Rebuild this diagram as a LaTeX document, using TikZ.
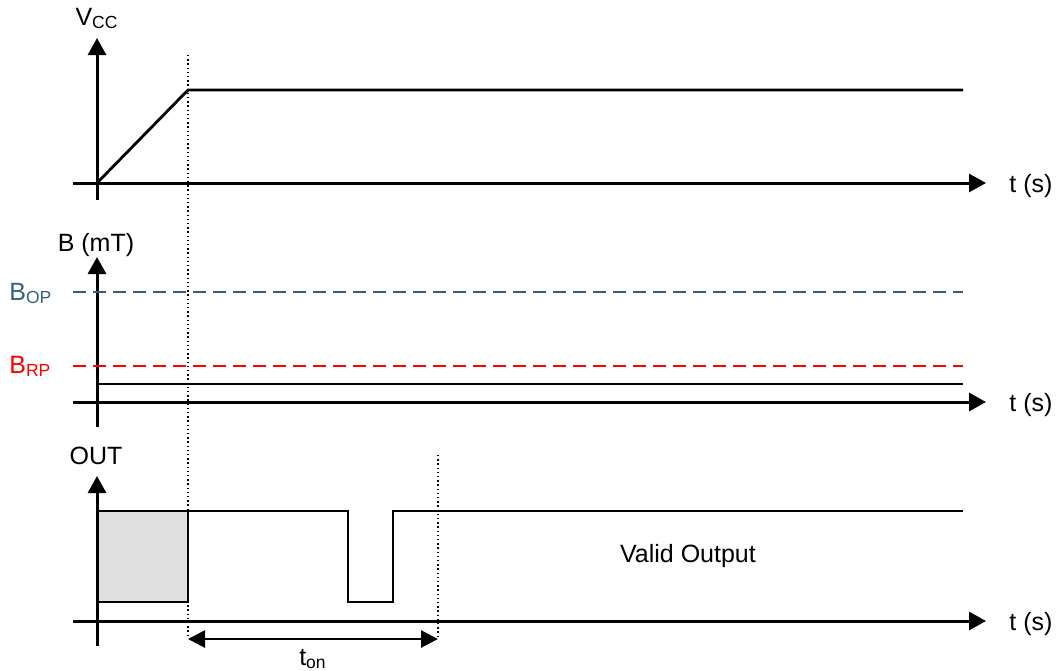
\documentclass[tikz,border=0pt]{standalone}
\usepackage{fontspec}
\setmainfont{Liberation Sans}
\usepackage{xcolor}
\usetikzlibrary{arrows.meta,positioning}
\definecolor{bopblue}{RGB}{52,96,128}
\definecolor{boxgray}{RGB}{224,224,224}

\begin{document}
\begin{tikzpicture}[x=0.5pt,y=-0.5pt,
    font=\fontsize{12.5}{15}\selectfont,
    axis/.style={line width=1.5pt,-{Triangle[length=8.5pt,width=9pt]}},
    sig/.style={line width=1.4pt},
    lvl/.style={line width=1.1pt,dash pattern=on 6.5pt off 3.5pt},
    guide/.style={line width=0.7pt,dash pattern=on 0.7pt off 1.4pt},
    span/.style={line width=1.4pt,{Triangle[length=8.5pt,width=8.5pt]}-{Triangle[length=8.5pt,width=8.5pt]}},
    lab/.style={inner sep=0pt}]
    \def\ox{97}    % time origin
    \def\tp{188}   % end of power-up ramp
    \def\tv{438}   % end of t_on
    \def\xe{963}   % end of the traces

    \useasboundingbox (0,0) rectangle (1058,670);

    % Output box during power-up
    \fill[boxgray] (\ox,511) rectangle (\tp,602);

    % Axes (one set per panel)
    \foreach \n/\yb/\yt/\yx in {vcc/200/38/183, b/427/257/402, out/646/476/621} {
        \draw[axis] (\ox,\yb) -- (\ox,\yt);
        \draw[axis] (73,\yx) -- (986,\yx);
        \node[lab, anchor=base west] (t\n) at (1009,\yx+9) {t (s)};
    }

    % Axis labels
    \node[lab, anchor=base] (vcc) at (\ox,25) {V\textsubscript{CC}};
    \node[lab, anchor=base] (bmt) at (96,251) {B (mT)};
    \node[lab, anchor=base] (out) at (96,464) {OUT};

    % Supply ramp
    \draw[sig] (\ox,183) -- (\tp,90) -- (\xe,90);

    % Thresholds and field
    \draw[lvl, bopblue] (73,292) -- (\xe,292);
    \draw[lvl, red] (73,366) -- (\xe,366);
    \node[lab, anchor=base west, text=bopblue] (bop) at (9,300) {B\textsubscript{OP}};
    \node[lab, anchor=base west, text=red] (brp) at (9,373) {B\textsubscript{RP}};
    \draw[sig] (\ox,384) -- (\xe,384);

    % Output trace
    \draw[sig] (\ox,511) -- (\tp,511);
    \draw[sig] (\ox,602) -- (\tp,602) -- (\tp,511) -- (348,511) -- (348,602)
        -- (393,602) -- (393,511) -- (\xe,511);
    \node[lab] (valid) at (688,556) {Valid Output};

    % Timing guides
    \coordinate (g1top) at (\tp,55);
    \coordinate (g1bot) at (\tp,636);
    \coordinate (g2top) at (\tv,455);
    \coordinate (g2bot) at (\tv,636);
    \draw[guide] (g1top) -- (g1bot);
    \draw[guide] (g2top) -- (g2bot);

    % t_on span
    \coordinate (ton0) at (\tp,639);
    \coordinate (ton1) at (\tv,639);
    \draw[span] (ton0) -- (ton1);
    \node[lab, anchor=base] (ton) at (313,665) {t\textsubscript{on}};
\end{tikzpicture}
\end{document}
